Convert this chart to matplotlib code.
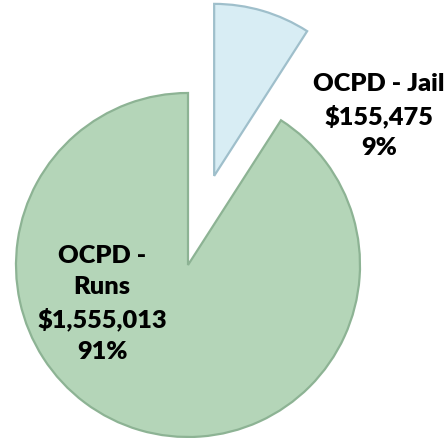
import matplotlib
matplotlib.use("Agg")

import matplotlib.pyplot as plt

# data
categories = ["OCPD - Jail", "OCPD - Runs"]
amounts = [155475, 1555013]
colors = ["#D8EDF4", "#B4D5B8"]
edge_colors = ["#9FBFCB", "#8DB394"]
explode = [0.54, 0.0]

total = sum(amounts)
pcts = [a / total * 100 for a in amounts]

fig = plt.figure(figsize=(4.48, 4.38), dpi=100)
ax = fig.add_axes([0, 0, 1, 1])

wedges, _ = ax.pie(
    amounts,
    colors=colors,
    explode=explode,
    startangle=90,
    counterclock=False,
    radius=1.0,
    wedgeprops=dict(linewidth=1.6),
)
for w, ec in zip(wedges, edge_colors):
    w.set_edgecolor(ec)

# keep pixel scale equal in both directions: 1 unit = 172 px
ax.set_xlim(-188 / 172, (448 - 188) / 172)
ax.set_ylim(-173 / 172, 265 / 172)
ax.set_aspect("auto")
ax.axis("off")

font = dict(family=["Lato", "DejaVu Sans"], fontweight="heavy", fontsize=18.3,
            color="black", ha="center", va="center", linespacing=1.5)

jail_text = f"{categories[0]}\n${amounts[0]:,}\n{pcts[0]:.0f}%"
runs_name = categories[1].replace(" - ", " -\n")
runs_text = f"{runs_name}\n${amounts[1]:,}\n{pcts[1]:.0f}%"

ax.text(1.11, 0.866, jail_text, **font)
ax.text(-0.50, -0.227, runs_text, **font)

fig.savefig("out.png", dpi=100)
